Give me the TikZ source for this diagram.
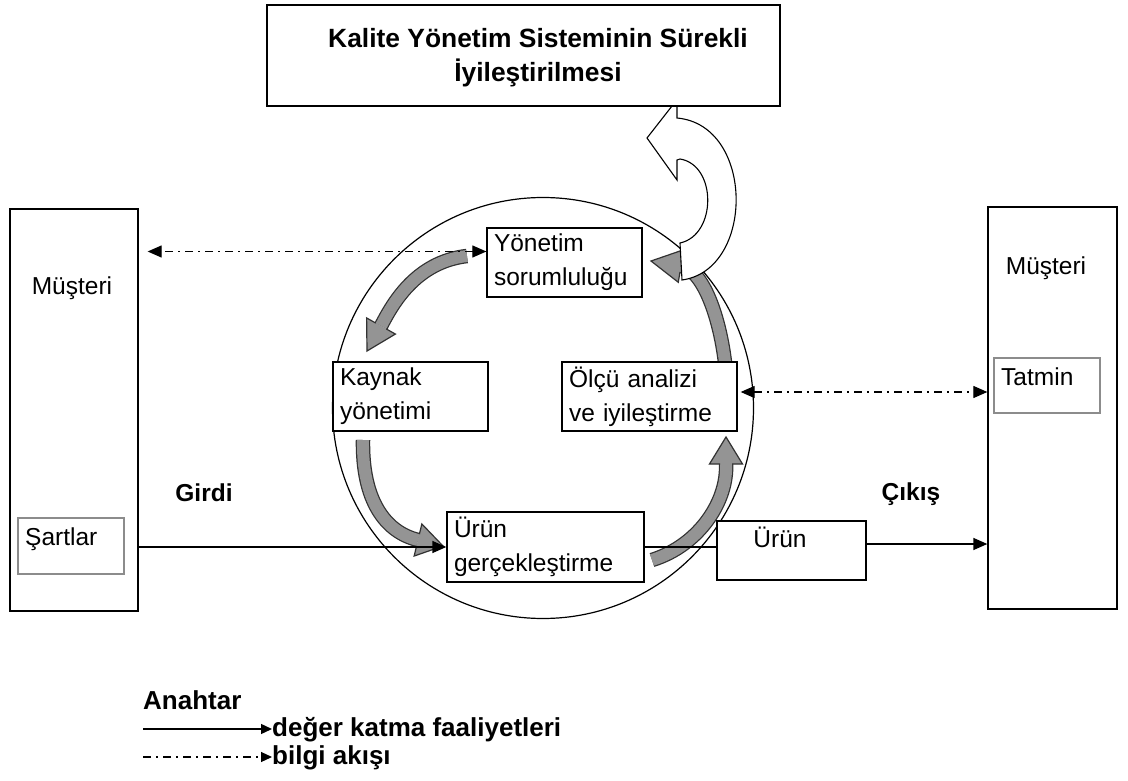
\documentclass[tikz,border=0pt]{standalone}
\usepackage{fontspec}
\setmainfont{Liberation Sans}
\usetikzlibrary{arrows.meta,calc}
\definecolor{arrgray}{RGB}{148,148,148}
\definecolor{edgegray}{RGB}{50,50,50}
\definecolor{thingray}{RGB}{140,140,140}
\newcommand{\grayarr}[5]{%
  \draw[line width=14.5pt, draw=edgegray] #1 .. controls #2 and #3 .. #4;
  \draw[line width=12pt, draw=arrgray] #1 .. controls #2 and #3 .. #4;
  \fill[arrgray] ($#4!7.25pt!90:#5$) -- ($#4!16.5pt!90:#5$) -- #5 -- ($#4!16.5pt!-90:#5$) -- ($#4!7.25pt!-90:#5$) -- cycle;
  \draw[edgegray, line width=1.2pt, line join=miter] ($#4!6pt!90:#5$) -- ($#4!16.5pt!90:#5$) -- #5 -- ($#4!16.5pt!-90:#5$) -- ($#4!6pt!-90:#5$);
}
\begin{document}
\begin{tikzpicture}[x=1pt,y=-1pt,
  box/.style={draw, line width=1.3pt, fill=white, inner sep=0pt},
  txt/.style={font=\fontsize{24.5}{34}\selectfont, inner sep=0pt},
  boxtxt/.style={box, font=\fontsize{24.5}{34}\selectfont, align=left, inner xsep=7pt, inner ysep=0pt},
  boldtxt/.style={font=\fontsize{24.5}{30}\selectfont\bfseries, inner sep=0pt},
  legtxt/.style={font=\fontsize{26}{30}\selectfont\bfseries, inner sep=0pt},
  info/.style={line width=1.2pt, dash pattern=on 8pt off 5pt on 2pt off 5pt},
  flow/.style={line width=1.4pt},
  tipA/.tip={Triangle[length=14pt,width=12pt]},
  tipB/.tip={Triangle[length=11pt,width=10pt]}
]
\useasboundingbox (0,0) rectangle (1128,781);
\fill[white] (0,0) rectangle (1128,781);

% central circle
\node[circle, draw, line width=1.2pt, minimum size=421pt, inner sep=0pt] (cyc) at (543,408) {};

% grey curved process arrows
\grayarr{(467,256)}{(415,262)}{(392,305)}{(381,326)}{(367,351)}
\grayarr{(363,440)}{(362,500)}{(385,532)}{(418,540)}{(443,546)}
\grayarr{(652,560)}{(700,545)}{(728,500)}{(726,464)}{(726,437)}
\grayarr{(726,372)}{(722,325)}{(705,270)}{(681,266)}{(651,261)}

% white improvement arrow
\draw[line width=1.1pt, fill=white, line join=miter]
  (672,106) -- (677,106) -- (677,118)
  .. controls (755,125) and (755,270) .. (682,280) -- (680,243)
  .. controls (717,235) and (717,165) .. (680,159)
  -- (677,160) -- (677,180) -- (647,138) -- cycle;

% title
\node[box, minimum width=513pt, minimum height=101pt] (kys) at (523.5,55.5) {};
\node[font=\fontsize{26.4}{34}\selectfont\bfseries, align=center, inner sep=0pt] (kysT) at (538,58)
  {Kalite Yönetim Sisteminin Sürekli\\İyileştirilmesi};

% customers
\node[box, minimum width=128pt, minimum height=402pt] (lm) at (74,410) {};
\node[txt, anchor=base] (lmT) at (72,294) {Müşteri};
\node[box, draw=thingray, line width=1.2pt, minimum width=106pt, minimum height=56pt] (sart) at (71,546) {};
\node[txt, anchor=base west] (sartT) at (25,545) {Şartlar};

\node[box, minimum width=129pt, minimum height=402pt] (rm) at (1052.5,408) {};
\node[txt, anchor=base] (rmT) at (1046,274) {Müşteri};
\node[box, draw=thingray, line width=1.2pt, minimum width=106pt, minimum height=55pt] (tat) at (1047,385.5) {};
\node[txt, anchor=base west] (tatT) at (1001,385) {Tatmin};

% process boxes
\node[boxtxt, text width=141pt, minimum height=69pt] (ys) at (564.5,262.5) {Yönetim\\sorumluluğu};
\node[boxtxt, text width=141pt, minimum height=69pt] (ky) at (410.5,396.5) {Kaynak\\yönetimi};
\node[boxtxt, text width=161pt, minimum height=69pt] (oa) at (649.5,396.5) {Ölçü analizi\\ve iyileştirme};
\node[boxtxt, text width=183pt, minimum height=70pt] (ug) at (545.5,547) {Ürün\\gerçekleştirme};

\node[box, minimum width=149pt, minimum height=59pt] (urun) at (791.5,550.5) {};
\node[txt, anchor=base] (urunT) at (780,547) {Ürün};

% labels
\node[boldtxt, anchor=base] (girdi) at (204,501) {Girdi};
\node[boldtxt, anchor=base] (cikis) at (911,500) {Çıkış};

% connectors
\draw[info, tipA-tipA, shorten >=9pt] ([yshift=11pt]ys.west) -- ([yshift=11pt]ys.west -| lm.east);
\draw[info, tipA-tipA, shorten <=3pt] ([yshift=4.5pt]oa.east) -- ([yshift=4.5pt]oa.east -| rm.west);
\draw[flow, -tipA] (ug.west -| lm.east) -- (ug.west);
\draw[flow] (ug.east) -- (ug.east -| urun.west);
\draw[flow, -tipA] ([yshift=6.5pt]urun.east) -- ([yshift=6.5pt]urun.east -| rm.west);

% legend
\node[legtxt, anchor=base west] (anah) at (143,709) {Anahtar};
\node[legtxt, anchor=base west] (leg1) at (272,736) {değer katma faaliyetleri};
\node[legtxt, anchor=base west] (leg2) at (272,764) {bilgi akışı};
\coordinate (l1s) at (143,729);
\coordinate (l2s) at (143,757);
\draw[flow, -tipB] (l1s) -- (l1s -| leg1.west);
\draw[info, -tipB] (l2s) -- (l2s -| leg2.west);
\end{tikzpicture}
\end{document}
